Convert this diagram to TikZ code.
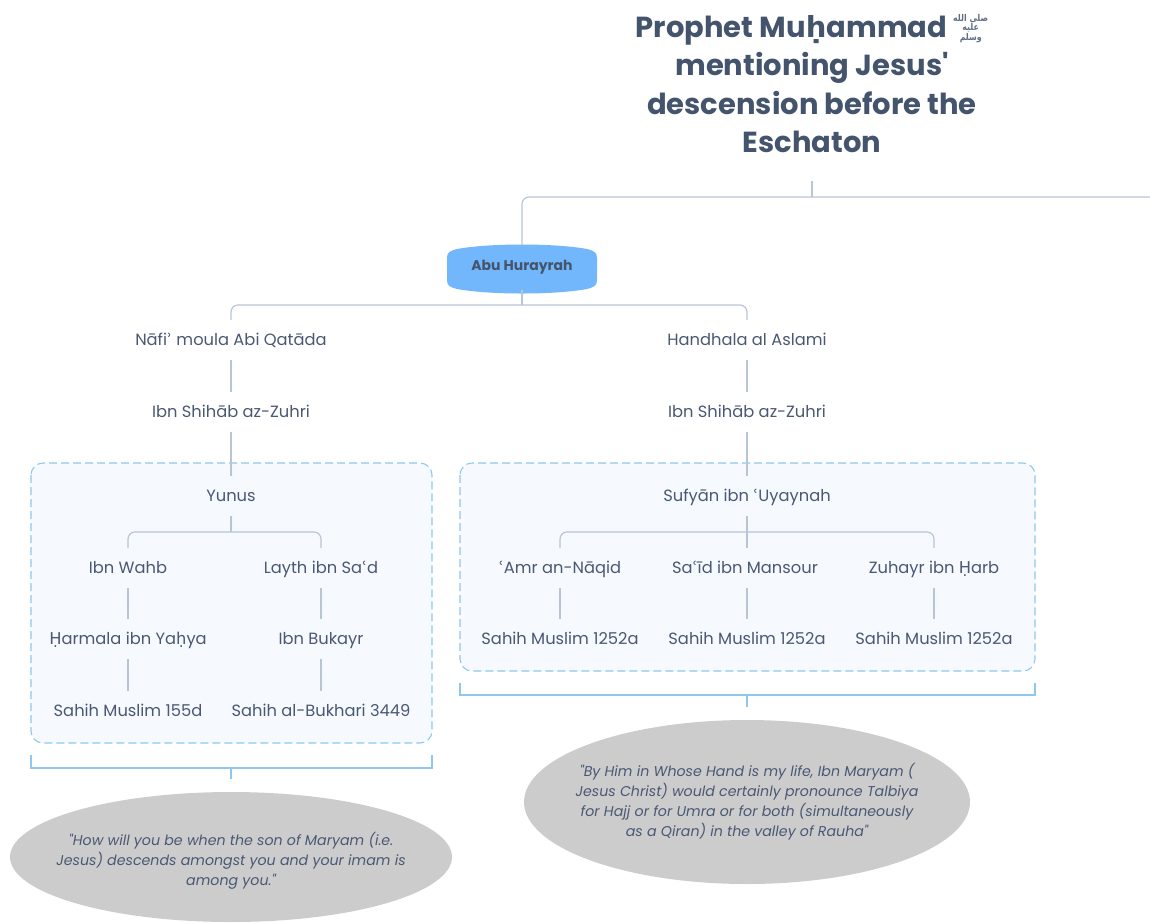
\documentclass[tikz,border=0pt]{standalone}
\usepackage{fontspec}
\usetikzlibrary{shapes.geometric}
\TeXXeTstate=1
\setmainfont{Poppins}[Ligatures=TeXOff]
\newfontfamily\dv{DejaVu Sans}
\newfontfamily\arabicfont[Script=Arabic]{DejaVu Sans}
\newcommand{\xt}[1]{{\dv #1}}
\definecolor{txt}{HTML}{4A5874}
\definecolor{ttl}{HTML}{44546C}
\definecolor{lnk}{HTML}{B8C5D5}
\definecolor{dsh}{HTML}{8EC8EE}
\definecolor{boxfill}{HTML}{F6FAFE}
\definecolor{abufill}{HTML}{72B6FC}
\definecolor{ellfill}{HTML}{CCCCCC}
\begin{document}
\begin{tikzpicture}[x=1pt,y=-1pt,
  nm/.style={font=\fontsize{16.3}{19}\selectfont, text=txt, inner xsep=0pt, inner ysep=13pt, text height=12pt, text depth=2pt},
  link/.style={draw=lnk, line width=1.2pt, rounded corners=7pt},
  brk/.style={draw=dsh, line width=1.3pt},
  grp/.style={draw=dsh, dash pattern=on 8pt off 4pt, line width=1.1pt, rounded corners=12pt, fill=boxfill},
  quote/.style={text=txt, font=\fontsize{14.2}{20}\selectfont\itshape, align=center, inner sep=0pt},
  ttlstyle/.style={font=\fontsize{29}{38.5}\selectfont\bfseries, text=ttl, align=center, inner sep=0pt},
  ]
\useasboundingbox (0,0) rectangle (1150,922);

% group boxes
\draw[grp] (31,463) rectangle (432,743);
\draw[grp] (460,463) rectangle (1035,671);

% quote ellipses
\fill[ellfill] (231,857) ellipse [x radius=221, y radius=65];
\fill[ellfill] (747,802) ellipse [x radius=223, y radius=82];

% title
\node[ttlstyle] (title) at (812,84) {Prophet Mu\xt{ḥ}ammad \raisebox{-3pt}[0pt][0pt]{\resizebox*{35pt}{28pt}{\color{ttl!85}\arabicfont\fontsize{10}{11}\selectfont\renewcommand{\arraystretch}{0.72}\begin{tabular}[b]{@{}c@{}}\beginR صلى الله\endR\\\beginR عليه\endR\\\beginR وسلم\endR\end{tabular}}}\\mentioning Jesus'\\descension before the\\Eschaton};
\coordinate (t0) at (812,181);
\coordinate (t1) at (812,197);
\coordinate (tr) at (1150,197);

% Abu Hurayrah
\path[fill=abufill] (447,258) .. controls (447,252) and (450,251) .. (457,249)
  .. controls (490,243) and (554,243) .. (587,249)
  .. controls (594,251) and (597,252) .. (597,258) -- (597,280)
  .. controls (597,286) and (594,287) .. (587,289)
  .. controls (554,295) and (490,295) .. (457,289)
  .. controls (450,287) and (447,286) .. (447,280) -- cycle;
\node[font=\fontsize{14}{16}\selectfont\bfseries, text=ttl, minimum width=150pt, minimum height=45pt, inner sep=0pt] (abu) at (522,267.5) {Abu Hurayrah};

% names
\node[nm] (nafi) at (231,340) {Nāfi\xt{ʾ} moula Abi Qatāda};
\node[nm] (hand) at (747,340) {Handhala al Aslami};
\node[nm] (zl) at (231,412) {Ibn Shihāb az-Zuhri};
\node[nm] (zr) at (747,412) {Ibn Shihāb az-Zuhri};
\node[nm] (yunus) at (231,496) {Yunus};
\node[nm] (wahb) at (128,568) {Ibn Wahb};
\node[nm] (layth) at (321,568) {Layth ibn Sa\xt{ʿ}d};
\node[nm] (harm) at (128,639) {\xt{Ḥ}armala ibn Ya\xt{ḥ}ya};
\node[nm] (buk) at (321,639) {Ibn Bukayr};
\node[nm] (sm155) at (128,711) {Sahih Muslim 155d};
\node[nm] (sb) at (321,711) {Sahih al-Bukhari 3449};
\node[nm] (suf) at (747,496) {Sufyān ibn \xt{ʿ}Uyaynah};
\node[nm] (amr) at (560,568) {\xt{ʿ}Amr an-Nāqid};
\node[nm] (said) at (745,568) {Sa\xt{ʿ}īd ibn Mansour};
\node[nm] (zuh) at (934,568) {Zuhayr ibn \xt{Ḥ}arb};
\node[nm] (sm1) at (560,639) {Sahih Muslim 1252a};
\node[nm] (sm2) at (747,639) {Sahih Muslim 1252a};
\node[nm] (sm3) at (934,639) {Sahih Muslim 1252a};

% quotes
\node[quote] (q1) at (231,861) {"How will you be when the son of Maryam (i.e.\\Jesus) descends amongst you and your imam is\\among you."};
\node[quote] (q2) at (747,802) {"By Him in Whose Hand is my life, Ibn Maryam (\\Jesus Christ) would certainly pronounce Talbiya\\for Hajj or for Umra or for both (simultaneously\\as a Qiran) in the valley of Rauha"};

% connectors
\draw[link] (t0) -- (t1);
\draw[link] (tr) -| (abu.north);
\coordinate (j1) at (522,305);
\draw[link] (abu.south) -- (j1);
\draw[link] (nafi.north) |- (j1) -| (hand.north);
\draw[link] (nafi.south) -- (zl.north);
\draw[link] (hand.south) -- (zr.north);
\draw[link] (zl.south) -- (yunus.north);
\draw[link] (zr.south) -- (suf.north);
\coordinate (j2) at (231,532);
\draw[link] (yunus.south) -- (j2);
\draw[link] (wahb.north) |- (j2) -| (layth.north);
\draw[link] (wahb.south) -- (harm.north);
\draw[link] (harm.south) -- (sm155.north);
\draw[link] (layth.south) -- (buk.north);
\draw[link] (buk.south) -- (sb.north);
\coordinate (j3) at (747,532);
\draw[link] (suf.south) -- (j3);
\draw[link] (amr.north) |- (j3) -| (zuh.north);
\draw[link] (j3) -- (said.north -| j3);
\draw[link] (amr.south) -- (sm1.north);
\draw[link] (said.south -| sm2) -- (sm2.north);
\draw[link] (zuh.south) -- (sm3.north);

% summary brackets
\coordinate (b1) at (231,768);
\draw[brk] (31,755) |- (b1) -| (432,755);
\draw[brk] (b1) -- (b1 |- 0,779);
\coordinate (b2) at (747,695);
\draw[brk] (460,683) |- (b2) -| (1035,683);
\draw[brk] (b2) -- (b2 |- 0,707);
\end{tikzpicture}
\end{document}
